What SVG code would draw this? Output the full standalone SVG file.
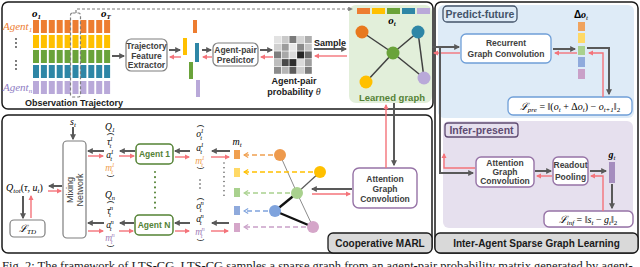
<svg xmlns="http://www.w3.org/2000/svg" width="640" height="267" viewBox="0 0 640 267">
<style>
.panel{fill:#fff;stroke:#1a1a1a;stroke-width:1.5}
.tag{fill:#d9d9d9;stroke:#1a1a1a;stroke-width:1.3}
.s{font-family:"Liberation Sans",Arial,sans-serif}
.b{font-weight:bold}
.m{font-family:"Liberation Serif","Times New Roman",serif;font-style:italic}
.c{text-anchor:middle}
.dk{stroke:#595959;stroke-width:2;fill:none;marker-end:url(#ad)}
.rd{stroke:#F4737A;stroke-width:1.4;fill:none;marker-end:url(#ar)}
.gbox{fill:#fff;stroke:#7f7f7f;stroke-width:1.2}
.bbox{fill:#fff;stroke:#6F9FD8;stroke-width:1.3}
.pbox{fill:#fff;stroke:#9673A6;stroke-width:1.4}
.abox{fill:#fff;stroke:#548235;stroke-width:1.5}
.btxt{font-size:8.5px;fill:#404040}
.edge{stroke:#404040;stroke-width:1.5}
</style>
<defs>
<marker id="ad" viewBox="0 0 10 10" refX="8" refY="5" markerWidth="3" markerHeight="3" orient="auto"><path d="M0,0 L10,5 L0,10 z" fill="#595959"/></marker>
<marker id="ar" viewBox="0 0 10 10" refX="8" refY="5" markerWidth="3.6" markerHeight="3.6" orient="auto"><path d="M0,0 L10,5 L0,10 z" fill="#F4737A"/></marker>
<marker id="ag" viewBox="0 0 10 10" refX="8" refY="5" markerWidth="4" markerHeight="4" orient="auto"><path d="M0,0 L10,5 L0,10 z" fill="#7f7f7f"/></marker>
<marker id="mo" viewBox="0 0 10 10" refX="8" refY="5" markerWidth="4" markerHeight="4" orient="auto"><path d="M1,1 L8,5 L1,9" fill="none" stroke="#F0A050" stroke-width="2"/></marker>
<marker id="my" viewBox="0 0 10 10" refX="8" refY="5" markerWidth="4" markerHeight="4" orient="auto"><path d="M1,1 L8,5 L1,9" fill="none" stroke="#FFC000" stroke-width="2"/></marker>
<marker id="mg" viewBox="0 0 10 10" refX="8" refY="5" markerWidth="4" markerHeight="4" orient="auto"><path d="M1,1 L8,5 L1,9" fill="none" stroke="#A9D18E" stroke-width="2"/></marker>
<marker id="mb" viewBox="0 0 10 10" refX="8" refY="5" markerWidth="4" markerHeight="4" orient="auto"><path d="M1,1 L8,5 L1,9" fill="none" stroke="#7FA3DD" stroke-width="2"/></marker>
<marker id="mp" viewBox="0 0 10 10" refX="8" refY="5" markerWidth="4" markerHeight="4" orient="auto"><path d="M1,1 L8,5 L1,9" fill="none" stroke="#C9A0C8" stroke-width="2"/></marker>
</defs>

<!-- panels -->
<g id="panel-top"><rect class="panel" x="2" y="2" width="431" height="107" rx="6"/></g>
<g id="panel-marl"><rect class="panel" x="2" y="115" width="430" height="138" rx="6"/></g>
<g id="panel-right"><rect class="panel" x="435" y="2" width="203" height="251" rx="6"/>
<rect x="438" y="5" width="196" height="113" rx="6" fill="#DEEBF7"/>
<rect x="443" y="121" width="190" height="107" rx="6" fill="#E6E0EE"/>
</g>

<!-- observation trajectory -->
<g id="obs">
<g fill="#ED7D31"><rect x="33" y="20" width="6" height="13"/><rect x="40.9" y="20" width="6" height="13"/><rect x="48.8" y="20" width="6" height="13"/><rect x="56.7" y="20" width="6" height="13"/><rect x="64.6" y="20" width="6" height="13"/><rect x="72.5" y="20" width="6" height="13"/><rect x="80.4" y="20" width="6" height="13"/><rect x="88.3" y="20" width="6" height="13"/><rect x="96.2" y="20" width="6" height="13"/><rect x="104.1" y="20" width="6" height="13"/></g>
<g fill="#FFC000"><rect x="33" y="35" width="6" height="13"/><rect x="40.9" y="35" width="6" height="13"/><rect x="48.8" y="35" width="6" height="13"/><rect x="56.7" y="35" width="6" height="13"/><rect x="64.6" y="35" width="6" height="13"/><rect x="72.5" y="35" width="6" height="13"/><rect x="80.4" y="35" width="6" height="13"/><rect x="88.3" y="35" width="6" height="13"/><rect x="96.2" y="35" width="6" height="13"/><rect x="104.1" y="35" width="6" height="13"/></g>
<g fill="#6AA33A"><rect x="33" y="50" width="6" height="13"/><rect x="40.9" y="50" width="6" height="13"/><rect x="48.8" y="50" width="6" height="13"/><rect x="56.7" y="50" width="6" height="13"/><rect x="64.6" y="50" width="6" height="13"/><rect x="72.5" y="50" width="6" height="13"/><rect x="80.4" y="50" width="6" height="13"/><rect x="88.3" y="50" width="6" height="13"/><rect x="96.2" y="50" width="6" height="13"/><rect x="104.1" y="50" width="6" height="13"/></g>
<g fill="#2E86A6"><rect x="33" y="65" width="6" height="13"/><rect x="40.9" y="65" width="6" height="13"/><rect x="48.8" y="65" width="6" height="13"/><rect x="56.7" y="65" width="6" height="13"/><rect x="64.6" y="65" width="6" height="13"/><rect x="72.5" y="65" width="6" height="13"/><rect x="80.4" y="65" width="6" height="13"/><rect x="88.3" y="65" width="6" height="13"/><rect x="96.2" y="65" width="6" height="13"/><rect x="104.1" y="65" width="6" height="13"/></g>
<g fill="#B9A9D9"><rect x="33" y="81" width="6" height="13"/><rect x="40.9" y="81" width="6" height="13"/><rect x="48.8" y="81" width="6" height="13"/><rect x="56.7" y="81" width="6" height="13"/><rect x="64.6" y="81" width="6" height="13"/><rect x="72.5" y="81" width="6" height="13"/><rect x="80.4" y="81" width="6" height="13"/><rect x="88.3" y="81" width="6" height="13"/><rect x="96.2" y="81" width="6" height="13"/><rect x="104.1" y="81" width="6" height="13"/></g>
<rect x="70.5" y="13" width="10" height="84" rx="2" fill="none" stroke="#7f7f7f" stroke-width="1.2" stroke-dasharray="3,2"/>
<text class="m b" x="32" y="17" font-size="11">o<tspan font-size="7" dy="2">1</tspan></text>
<text class="m b" x="101" y="17" font-size="11">o<tspan font-size="7" dy="2">T</tspan></text>
<text class="m" x="3" y="30" font-size="11" fill="#ED7D31">Agent<tspan font-size="7" dy="2">1</tspan></text>
<text class="m" x="3" y="91" font-size="11" fill="#8E7CC3">Agent<tspan font-size="7" dy="2">n</tspan></text>
<g fill="#404040"><circle cx="16" cy="39" r="0.9"/><circle cx="16" cy="43" r="0.9"/><circle cx="16" cy="47" r="0.9"/><circle cx="16" cy="61" r="0.9"/><circle cx="16" cy="65" r="0.9"/><circle cx="16" cy="69" r="0.9"/></g>
<text class="s b c" x="74" y="106" font-size="9" fill="#1a1a1a">Observation  Trajectory</text>
</g>

<g id="tfe"><rect class="gbox" x="126" y="39" width="41" height="32" rx="5"/>
<text class="s b c btxt" x="146.5" y="49" font-size="8">Trajectory</text>
<text class="s b c btxt" x="146.5" y="58.5" font-size="8">Feature</text>
<text class="s b c btxt" x="146.5" y="68" font-size="8">Extractor</text></g>

<g id="features">
<rect x="193" y="20" width="4" height="13" fill="#ED7D31"/>
<rect x="183" y="38" width="4" height="17" fill="#FFC000"/>
<rect x="195" y="43" width="4" height="19" fill="#2E86A6"/>
<rect x="189" y="62" width="4" height="17" fill="#6AA33A"/>
<rect x="196" y="80" width="4" height="17" fill="#B9A9D9"/>
</g>

<g id="predictor"><rect class="gbox" x="213" y="43" width="45" height="23" rx="5"/>
<text class="s b c btxt" x="235.5" y="53" font-size="8">Agent-pair</text>
<text class="s b c btxt" x="235.5" y="63" font-size="8">Predictor</text></g>

<g id="matrix">
<rect x="274" y="36" width="7" height="7" fill="#E2E2E2"/><rect x="281.7" y="36" width="7" height="7" fill="#C9C9C9"/><rect x="289.4" y="36" width="7" height="7" fill="#7A7A7A"/><rect x="297.1" y="36" width="7" height="7" fill="#D4D4D4"/><rect x="304.8" y="36" width="7" height="7" fill="#ADADAD"/>
<rect x="274" y="43.7" width="7" height="7" fill="#D0D0D0"/><rect x="281.7" y="43.7" width="7" height="7" fill="#9C9C9C"/><rect x="289.4" y="43.7" width="7" height="7" fill="#E8E8E8"/><rect x="297.1" y="43.7" width="7" height="7" fill="#8A8A8A"/><rect x="304.8" y="43.7" width="7" height="7" fill="#C4C4C4"/>
<rect x="274" y="51.4" width="7" height="7" fill="#7E7E7E"/><rect x="281.7" y="51.4" width="7" height="7" fill="#A8A8A8"/><rect x="289.4" y="51.4" width="7" height="7" fill="#DCDCDC"/><rect x="297.1" y="51.4" width="7" height="7" fill="#262626"/><rect x="304.8" y="51.4" width="7" height="7" fill="#6B6B6B"/>
<rect x="274" y="59.1" width="7" height="7" fill="#BDBDBD"/><rect x="281.7" y="59.1" width="7" height="7" fill="#4A4A4A"/><rect x="289.4" y="59.1" width="7" height="7" fill="#2E2E2E"/><rect x="297.1" y="59.1" width="7" height="7" fill="#DADADA"/><rect x="304.8" y="59.1" width="7" height="7" fill="#9E9E9E"/>
<rect x="274" y="66.8" width="7" height="7" fill="#8C8C8C"/><rect x="281.7" y="66.8" width="7" height="7" fill="#B5B5B5"/><rect x="289.4" y="66.8" width="7" height="7" fill="#5C5C5C"/><rect x="297.1" y="66.8" width="7" height="7" fill="#CFCFCF"/><rect x="304.8" y="66.8" width="7" height="7" fill="#7D7D7D"/>
<text class="s b c" x="294" y="84" font-size="9" fill="#1a1a1a">Agent-pair</text>
<text class="s b c" x="294" y="95" font-size="9" fill="#1a1a1a">probability <tspan class="m" font-weight="normal" font-size="10">θ</tspan></text>
<text class="s b c" x="330" y="46" font-size="9" fill="#1a1a1a">Sample</text>
</g>

<g id="learned-graph">
<rect x="349" y="5" width="83" height="98" rx="7" fill="#E2EFDA"/>
<rect x="357" y="8" width="13" height="6" fill="#ED7D31"/><rect x="372" y="8" width="13" height="6" fill="#FFC000"/><rect x="387" y="8" width="13" height="6" fill="#6AA33A"/><rect x="402" y="8" width="13" height="6" fill="#2E86A6"/><rect x="417" y="8" width="13" height="6" fill="#B9A9D9"/>
<text class="m b c" x="392" y="24" font-size="11">o<tspan font-size="7" dy="2">t</tspan></text>
<line class="edge" x1="362" y1="32" x2="393" y2="53"/><line class="edge" x1="418" y1="32" x2="393" y2="53"/><line class="edge" x1="393" y1="53" x2="366" y2="82"/><line class="edge" x1="393" y1="53" x2="424" y2="78"/><line class="edge" x1="418" y1="32" x2="424" y2="78"/>
<circle cx="362" cy="32" r="6.5" fill="#E8781E"/><circle cx="418" cy="32" r="6.5" fill="#2E86A6"/><circle cx="393" cy="53" r="6.5" fill="#6AA33A"/><circle cx="366" cy="82" r="6.5" fill="#FFC000"/><circle cx="424" cy="78" r="6.5" fill="#B9A9D9"/>
<text class="s b c" x="392" y="100.5" font-size="9.5" fill="#548235">Learned graph</text>
</g>

<!-- right panel nodes -->
<g id="predict-future">
<rect x="443" y="6" width="74" height="16" rx="4" fill="#DEEBF7" stroke="#44546A" stroke-width="1.3"/>
<text class="s b c" x="480" y="18" font-size="10.5" fill="#44546A">Predict-future</text>
</g>
<g id="recurrent"><rect class="bbox" x="461" y="34" width="90" height="29" rx="5"/>
<text class="s b c btxt" x="506" y="46">Recurrent</text>
<text class="s b c btxt" x="506" y="57">Graph Convolution</text></g>
<g id="delta-o">
<text class="c" x="581" y="18" font-size="10"><tspan class="s b">Δ</tspan><tspan class="m b">o</tspan><tspan class="m" font-size="7" dy="2">t</tspan></text>
<rect x="578" y="22" width="7" height="9" fill="#F0A35E"/><rect x="578" y="33" width="7" height="10" fill="#FFD966"/><rect x="578" y="46" width="7" height="9" fill="#A9D18E"/><rect x="578" y="57" width="7" height="10" fill="#8FAADC"/><rect x="578" y="69" width="7" height="10" fill="#C9A0C8"/>
</g>
<g id="loss-pre"><rect class="bbox" x="508" y="97" width="124" height="18" rx="5"/>
<text class="m" x="570" y="110" font-size="10" text-anchor="middle">ℒ<tspan font-size="7" dy="2">pre</tspan><tspan dy="-2" font-style="normal"> = ‖(</tspan>o<tspan font-size="7" dy="2">t</tspan><tspan dy="-2" font-style="normal"> + Δ</tspan>o<tspan font-size="7" dy="2">t</tspan><tspan dy="-2" font-style="normal">) − </tspan>o<tspan font-size="7" dy="2">t+1</tspan><tspan dy="-2" font-style="normal">‖</tspan><tspan font-size="7" dy="2" font-style="normal">2</tspan></text></g>

<g id="infer-present">
<rect x="445" y="123" width="73" height="14" rx="3" fill="#E6E0EE" stroke="#5F4B72" stroke-width="1.3"/>
<text class="s b c" x="481.5" y="134" font-size="10.5" fill="#5F4B72">Infer-present</text>
</g>
<g id="agc-infer"><rect class="pbox" x="476" y="157" width="58" height="30" rx="5"/>
<text class="s b c btxt" x="505" y="166" font-size="8">Attention</text>
<text class="s b c btxt" x="505" y="175" font-size="8">Graph</text>
<text class="s b c btxt" x="505" y="184" font-size="8">Convolution</text></g>
<g id="readout"><rect class="pbox" x="553" y="157" width="35" height="28" rx="5"/>
<text class="s b c btxt" x="570.5" y="168" font-size="8">Readout</text>
<text class="s b c btxt" x="570.5" y="180" font-size="8">Pooling</text></g>
<g id="g-t">
<text class="m b c" x="612" y="158" font-size="10">g<tspan font-size="7" dy="2" font-weight="normal">t</tspan></text>
<rect x="609" y="162" width="6" height="21" fill="#A58DBE"/>
</g>
<g id="loss-inf"><rect class="pbox" x="544" y="211" width="89" height="16" rx="5"/>
<text class="m" x="588" y="223" font-size="10" text-anchor="middle">ℒ<tspan font-size="7" dy="2">inf</tspan><tspan dy="-2" font-style="normal"> = ‖</tspan>s<tspan font-size="7" dy="2">t</tspan><tspan dy="-2" font-style="normal"> − </tspan>g<tspan font-size="7" dy="2">t</tspan><tspan dy="-2" font-style="normal">‖</tspan><tspan font-size="7" dy="2" font-style="normal">2</tspan></text></g>

<!-- MARL nodes -->
<g id="s-t"><text class="m c" x="73" y="125" font-size="10">s<tspan font-size="7" dy="2">t</tspan></text></g>
<g id="mixing"><rect class="gbox" x="63" y="141" width="23" height="97" rx="4" stroke="#595959"/>
<text class="s c" transform="translate(73,190) rotate(-90)" font-size="9" fill="#404040">Mixing</text>
<text class="s c" transform="translate(83,190) rotate(-90)" font-size="9" fill="#404040">Network</text></g>
<g id="q-tot"><text class="m" x="6" y="191" font-size="10">Q<tspan font-size="7" dy="2">tot</tspan><tspan dy="-2" font-style="normal">(</tspan>τ<tspan font-style="normal">, </tspan>u<tspan font-size="7" dy="2">t</tspan><tspan dy="-2" font-style="normal">)</tspan></text></g>
<g id="loss-td"><rect class="gbox" x="10" y="220" width="35" height="17" rx="4" stroke="#595959"/>
<text class="m c" x="27.5" y="232" font-size="10">ℒ<tspan font-size="7" dy="2">TD</tspan></text></g>

<g id="agent1-out" font-size="9.5">
<text class="m c" x="110" y="130">Q<tspan font-size="6.5" dy="2">1</tspan></text>
<text class="s c" transform="translate(109,134) rotate(90)" font-size="8">(</text>
<text class="m c" x="110" y="145">τ<tspan font-size="6.5" dx="-0.5" dy="-4">1</tspan><tspan font-size="6.5" dx="-3.5" dy="7">t</tspan></text>
<text class="m c" x="110" y="158">a<tspan font-size="6.5" dx="-0.5" dy="-4">1</tspan><tspan font-size="6.5" dx="-3.5" dy="7">t</tspan></text>
<text class="m c" x="110" y="171" fill="#F0A050">m<tspan font-size="6.5" dx="-0.5" dy="-4">1</tspan><tspan font-size="6.5" dx="-3.5" dy="7">t</tspan></text>
<text class="s c" transform="translate(109,176) rotate(90)" font-size="8">)</text>
</g>
<g id="agentN-out" font-size="9.5">
<text class="m c" x="110" y="198">Q<tspan font-size="6.5" dy="2">n</tspan></text>
<text class="s c" transform="translate(109,202) rotate(90)" font-size="8">(</text>
<text class="m c" x="110" y="214">τ<tspan font-size="6.5" dx="-0.5" dy="-4">n</tspan><tspan font-size="6.5" dx="-4" dy="7">t</tspan></text>
<text class="m c" x="110" y="228">a<tspan font-size="6.5" dx="-0.5" dy="-4">n</tspan><tspan font-size="6.5" dx="-4" dy="7">t</tspan></text>
<text class="m c" x="110" y="241" fill="#A07DB8">m<tspan font-size="6.5" dx="-0.5" dy="-4">n</tspan><tspan font-size="6.5" dx="-4" dy="7">t</tspan></text>
<text class="s c" transform="translate(109,246) rotate(90)" font-size="8">)</text>
</g>
<g id="agent1"><rect class="abox" x="136" y="144" width="37" height="20" rx="4"/>
<text class="s b c" x="154.5" y="157" font-size="8.5" fill="#548235">Agent 1</text></g>
<g id="agentN"><rect class="abox" x="135" y="215" width="38" height="20" rx="4"/>
<text class="s b c" x="154" y="228" font-size="8.5" fill="#548235">Agent N</text></g>
<line x1="155" y1="172" x2="155" y2="208" stroke="#548235" stroke-width="2" stroke-linecap="round" stroke-dasharray="0.1,5"/>

<g id="agent1-in" font-size="9.5">
<text class="s c" transform="translate(199,126) rotate(90)" font-size="8">(</text>
<text class="m c" x="200" y="137">o<tspan font-size="6.5" dx="-0.5" dy="-4">1</tspan><tspan font-size="6.5" dx="-3.5" dy="7">t</tspan></text>
<text class="m c" x="200" y="151">a<tspan font-size="6.5" dx="-0.5" dy="-4">1</tspan><tspan font-size="6.5" dx="-3.5" dy="7">t</tspan></text>
<text class="m c" x="200" y="164" fill="#F0A050">m<tspan font-size="6.5" dx="-0.5" dy="-4">1</tspan><tspan font-size="6.5" dx="-3.5" dy="7">t</tspan></text>
<text class="s c" transform="translate(199,168) rotate(90)" font-size="8">)</text>
</g>
<g id="agentN-in" font-size="9.5">
<text class="s c" transform="translate(199,199) rotate(90)" font-size="8">(</text>
<text class="m c" x="200" y="209">o<tspan font-size="6.5" dx="-0.5" dy="-4">n</tspan><tspan font-size="6.5" dx="-4" dy="7">t</tspan></text>
<text class="m c" x="200" y="222">a<tspan font-size="6.5" dx="-0.5" dy="-4">n</tspan><tspan font-size="6.5" dx="-4" dy="7">t</tspan></text>
<text class="m c" x="200" y="235" fill="#A07DB8">m<tspan font-size="6.5" dx="-0.5" dy="-4">n</tspan><tspan font-size="6.5" dx="-4" dy="7">t</tspan></text>
<text class="s c" transform="translate(199,240) rotate(90)" font-size="8">)</text>
</g>
<g fill="#404040"><circle cx="200" cy="180" r="0.8"/><circle cx="200" cy="184" r="0.8"/><circle cx="200" cy="188" r="0.8"/></g>

<g id="m-t">
<text class="m c" x="237" y="145" font-size="10">m<tspan font-size="7" dy="2">t</tspan></text>
<rect x="234" y="150" width="6" height="9" fill="#F0A050"/><rect x="234" y="168" width="6" height="9" fill="#FFD966"/><rect x="234" y="188" width="6" height="9" fill="#A9D18E"/><rect x="234" y="206" width="6" height="9" fill="#8FAADC"/><rect x="234" y="223" width="6" height="9" fill="#D5A6C9"/>
<line x1="224" y1="163" x2="224" y2="199" stroke="#404040" stroke-width="1.4" stroke-linecap="round" stroke-dasharray="0.1,4.5"/>
</g>

<g id="comm-graph">
<line x1="280" y1="155" x2="297" y2="193" stroke="#8c8c8c" stroke-width="1"/>
<line x1="320" y1="172" x2="297" y2="193" stroke="#595959" stroke-width="1.2"/>
<line x1="297" y1="193" x2="275" y2="211" stroke="#111" stroke-width="2.3"/>
<line x1="297" y1="193" x2="313" y2="227" stroke="#8c8c8c" stroke-width="1"/>
<line x1="275" y1="211" x2="313" y2="227" stroke="#111" stroke-width="2.2"/>
<circle cx="280" cy="155" r="6" fill="#EE9A4D"/><circle cx="320" cy="172" r="6" fill="#FFC000"/><circle cx="297" cy="193" r="6" fill="#A9D18E"/><circle cx="275" cy="211" r="6" fill="#7FA3DD"/><circle cx="313" cy="227" r="6" fill="#D5A6C9"/>
</g>

<g id="agc-marl"><rect class="pbox" x="353" y="168" width="64" height="40" rx="6"/>
<text class="s b c btxt" x="385" y="182">Attention</text>
<text class="s b c btxt" x="385" y="192">Graph</text>
<text class="s b c btxt" x="385" y="202">Convolution</text></g>

<g id="tag-marl"><rect class="tag" x="328" y="233" width="104" height="20" rx="5"/>
<text class="s b c" x="380" y="247" font-size="10" fill="#1a1a1a">Cooperative MARL</text></g>
<g id="tag-isgl"><rect class="tag" x="435" y="233" width="203" height="20" rx="5"/>
<text class="s b c" x="536.5" y="247" font-size="10" fill="#1a1a1a">Inter-Agent Sparse Graph Learning</text></g>

<!-- connectors -->
<g id="connectors">
<path d="M76,13 V9 H352" fill="none" stroke="#7f7f7f" stroke-width="1.2" stroke-dasharray="3,2" marker-end="url(#ag)"/>
<path class="dk" d="M112,56 H124"/>
<path class="dk" d="M169,50 H180"/><path class="rd" d="M181,57 H170"/>
<path class="dk" d="M202,50 H211"/><path class="rd" d="M212,57 H203"/>
<path class="dk" d="M260,50 H272"/><path class="rd" d="M273,57 H261"/>
<path class="dk" d="M314,49 H346"/><path class="rd" d="M347,56 H315"/>
<path class="dk" d="M432,47 H459"/><path class="rd" d="M460,53 H434"/>
<path class="dk" d="M440,47 V173 H473"/><path class="rd" d="M475,168 H444 V154"/>
<path class="dk" d="M553,49 H575"/><path class="rd" d="M577,53 H555"/>
<path class="dk" d="M587,48 H609 V94"/><path class="rd" d="M603,97 V53 H589"/>
<path class="dk" d="M535,171 H551"/><path class="rd" d="M552,176 H537"/>
<path class="dk" d="M590,171 H606"/><path class="rd" d="M603,211 V176 H591"/>
<path class="dk" d="M612,184 V208"/>
<path class="rd" d="M386,168 V105"/><path class="dk" d="M394,103 V165"/>
<path class="dk" d="M352,189 H312"/><path class="rd" d="M312,194 H350"/>
<path d="M273,155 H244" fill="none" stroke="#F0A050" stroke-width="1.5" stroke-dasharray="5,3" marker-end="url(#mo)"/>
<path d="M313,172 H244" fill="none" stroke="#FFC000" stroke-width="1.5" stroke-dasharray="5,3" marker-end="url(#my)"/>
<path d="M290,193 H244" fill="none" stroke="#A9D18E" stroke-width="1.5" stroke-dasharray="5,3" marker-end="url(#mg)"/>
<path d="M268,211 H244" fill="none" stroke="#7FA3DD" stroke-width="1.5" stroke-dasharray="5,3" marker-end="url(#mb)"/>
<path d="M306,227 H244" fill="none" stroke="#C9A0C8" stroke-width="1.5" stroke-dasharray="5,3" marker-end="url(#mp)"/>
<path class="dk" d="M230,151 H212"/><path class="rd" d="M211,157 H229"/>
<path class="dk" d="M190,151 H175"/><path class="rd" d="M175,157 H189"/>
<path class="dk" d="M135,151 H120"/><path class="rd" d="M119,156 H134"/>
<path class="dk" d="M104,151 H88"/><path class="rd" d="M88,156 H103"/>
<path class="dk" d="M229,223 H212"/><path class="rd" d="M211,231 H228"/>
<path class="dk" d="M190,223 H175"/><path class="rd" d="M175,231 H189"/>
<path class="dk" d="M134,223 H120"/><path class="rd" d="M119,231 H133"/>
<path class="dk" d="M104,223 H88"/><path class="rd" d="M88,231 H103"/>
<path class="dk" d="M73,127 V139" stroke-width="1.6"/>
<path class="dk" d="M62,186 H49"/><path class="rd" d="M48,191 H61"/>
<path class="dk" d="M23,196 V218"/><path class="rd" d="M31,218 V196"/>
</g>

<text x="2" y="270" font-family="'Liberation Serif','Times New Roman',serif" font-size="12.5" fill="#1a1a1a">Fig. 2: The framework of LTS-CG. LTS-CG samples a sparse graph from an agent-pair probability matrix generated by agent-</text>
</svg>
